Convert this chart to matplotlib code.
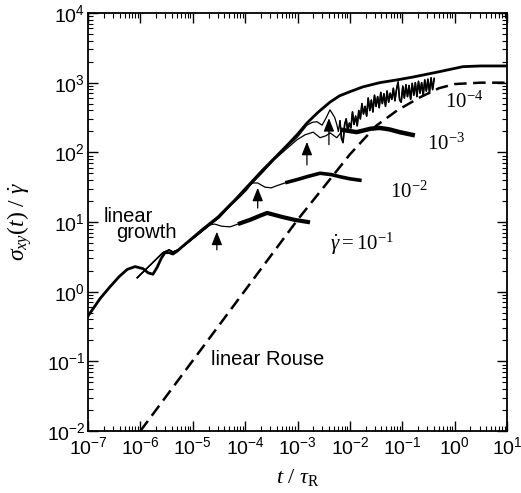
import numpy as np
import matplotlib
matplotlib.use('Agg')
import matplotlib.pyplot as plt
from matplotlib.ticker import FuncFormatter, LogLocator

plt.rcParams['font.family'] = 'Liberation Sans'
plt.rcParams['mathtext.fontset'] = 'custom'
plt.rcParams['mathtext.rm'] = 'Liberation Serif'
plt.rcParams['mathtext.it'] = 'Liberation Serif:italic'
plt.rcParams['mathtext.sf'] = 'Liberation Sans'

# datos, en log10
growth_logt = [-7.0, -6.77, -6.58, -6.4, -6.25, -6.1, -5.95, -5.85, -5.76, -5.68, -5.6, -5.53,
               -5.45, -5.38, -5.3, -5.21, -4.82, -4.52, -4.19, -3.66, -3.2, -3.0, -2.82,
               -2.6, -2.38, -2.2, -2.0, -1.75, -1.43, -1.1, -0.8, -0.34, 0.16, 0.5, 1.0]
growth_logs = [-0.35, -0.1, 0.07, 0.22, 0.32, 0.36, 0.33, 0.27, 0.25, 0.35, 0.48, 0.56,
               0.56, 0.54, 0.58, 0.64, 0.89, 1.07, 1.32, 1.75, 2.1, 2.26, 2.42,
               2.58, 2.72, 2.81, 2.87, 2.94, 3.0, 3.04, 3.08, 3.15, 3.23, 3.24, 3.24]

rouse_logt = [-6.0, -3.0, -2.0, -1.5, -1.1, -0.66, -0.3, 0.0, 0.5, 1.0]
rouse_logs = [-2.0, 1.03, 1.97, 2.38, 2.6, 2.79, 2.92, 2.98, 3.0, 3.0]

# tramo comun de las simulaciones
early_logt = [-6.06, -5.80, -5.57, -5.45, -5.38, -5.28, -5.2, -5.0, -4.82, -4.67, -4.5,
              -4.3, -4.1, -3.85, -3.66, -3.45, -3.24, -3.0, -2.82]
early_logs = [0.20, 0.39, 0.56, 0.60, 0.57, 0.60, 0.64, 0.76, 0.87, 0.96, 1.06,
              1.22, 1.38, 1.57, 1.72, 1.89, 2.05, 2.22, 2.39]

r1_logt = [-4.67, -4.58, -4.45, -4.29, -4.1, -3.91, -3.75, -3.58, -3.43, -3.28, -3.05, -2.8]
r1_logs = [0.96, 0.97, 0.94, 0.93, 0.98, 1.03, 1.08, 1.13, 1.10, 1.07, 1.03, 1.0]

r2_logt = [-4.10, -3.97, -3.87, -3.76, -3.62, -3.50, -3.40, -3.2, -3.0, -2.82, -2.57,
           -2.35, -2.19, -2.0, -1.81]
r2_logs = [1.36, 1.46, 1.56, 1.56, 1.50, 1.49, 1.52, 1.57, 1.61, 1.65, 1.70,
           1.68, 1.65, 1.62, 1.60]

r3_logt = [-3.24, -3.01, -2.86, -2.7, -2.57, -2.45, -2.38, -2.25, -2.13, -1.87, -1.6,
           -1.43, -1.25, -1.05, -0.8]
r3_logs = [2.03, 2.18, 2.25, 2.29, 2.21, 2.24, 2.28, 2.21, 2.32, 2.29, 2.34,
           2.35, 2.33, 2.29, 2.25]

r4_logt = [-2.82, -2.72, -2.63, -2.53, -2.45, -2.38, -2.33, -2.29, -2.25, -2.22, -2.19,
           -2.16, -2.13, -2.10, -2.07, -2.04, -2.01, -1.98, -1.95, -1.92, -1.89, -1.86,
           -1.83, -1.80, -1.77, -1.74, -1.71, -1.68, -1.65, -1.62, -1.59, -1.56, -1.53,
           -1.50, -1.47, -1.44, -1.41, -1.38, -1.35, -1.32, -1.29, -1.26, -1.23, -1.20,
           -1.17, -1.14, -1.11, -1.08, -1.05, -1.02, -0.99, -0.96, -0.93, -0.90, -0.87,
           -0.84, -0.81, -0.78, -0.75, -0.72, -0.69, -0.66, -0.63, -0.60, -0.57, -0.54,
           -0.51, -0.48, -0.45, -0.42, -0.39]
r4_logs = [2.39, 2.43, 2.44, 2.39, 2.50, 2.61, 2.55, 2.50, 2.40, 2.30, 2.45,
           2.20, 2.14, 2.40, 2.48, 2.30, 2.42, 2.35, 2.58, 2.40, 2.52, 2.38,
           2.60, 2.48, 2.70, 2.55, 2.66, 2.52, 2.78, 2.60, 2.75, 2.58, 2.82,
           2.66, 2.80, 2.64, 2.86, 2.70, 2.84, 2.66, 2.88, 2.72, 2.85, 2.76,
           2.92, 2.74, 2.90, 3.01, 2.75, 2.72, 2.95, 2.78, 2.97, 2.80, 2.96,
           2.76, 2.99, 2.82, 3.00, 2.80, 3.02, 2.85, 3.00, 2.82, 3.04, 2.88,
           3.05, 2.86, 3.07, 2.90, 3.06]

# flechas: (log t, log base, log punta)
arrows = [(-4.54, 0.60, 0.86), (-3.76, 1.20, 1.49), (-2.82, 1.82, 2.15), (-2.40, 2.11, 2.49)]

fig = plt.figure(figsize=(5.21, 4.93), dpi=100)
ax = fig.add_axes([88/521, 1-431/493, (507-88)/521, (431-13)/493])

ax.plot(10**np.array(growth_logt), 10**np.array(growth_logs), color='black', lw=2.0)
ax.plot(10**np.array(rouse_logt), 10**np.array(rouse_logs), color='black', lw=1.8,
        dashes=(5, 2.6))

ramas = [(r1_logt, r1_logs, -4.2, 3.0), (r2_logt, r2_logs, -3.3, 2.6),
         (r3_logt, r3_logs, -2.15, 3.2), (r4_logt, r4_logs, -2.2, 1.2)]
for bt, bs, noise_start, lw in ramas:
    et = np.array(early_logt)
    es = np.array(early_logs)
    m = et < bt[0]
    tt = np.concatenate([et[m], bt])
    ss = np.concatenate([es[m], bs])
    ax.plot(10**tt, 10**ss, color='black', lw=0.9)
    n = tt >= noise_start
    if n.sum() > 1:
        ax.plot(10**tt[n], 10**ss[n], color='black', lw=lw)

for xa, y0, y1 in arrows:
    ax.annotate('', xy=(10**xa, 10**y1), xytext=(10**xa, 10**y0),
                arrowprops=dict(arrowstyle='-|>,head_length=0.8,head_width=0.32',
                                color='black', lw=0.9, shrinkA=0, shrinkB=0))

ax.set_xscale('log')
ax.set_yscale('log')
ax.set_xlim(1e-7, 1e1)
ax.set_ylim(1e-2, 1e4)
ax.xaxis.set_major_locator(LogLocator(base=10, numticks=20))
ax.yaxis.set_major_locator(LogLocator(base=10, numticks=20))
ax.xaxis.set_minor_locator(LogLocator(base=10, subs=np.arange(2, 10), numticks=20))
ax.yaxis.set_minor_locator(LogLocator(base=10, subs=np.arange(2, 10), numticks=20))
fmt = FuncFormatter(lambda v, p: r'$\mathsf{10^{%d}}$' % round(np.log10(v)))
ax.xaxis.set_major_formatter(fmt)
ax.yaxis.set_major_formatter(fmt)
ax.tick_params(which='both', direction='in', top=True, right=True, labelsize=14)
ax.tick_params(which='major', length=7, width=1.0)
ax.tick_params(which='minor', length=3.5, width=0.8)
ax.tick_params(axis='x', pad=4)
ax.tick_params(axis='y', pad=2)
for s in ax.spines.values():
    s.set_linewidth(1.3)

ax.set_xlabel(r'$t\ /\ \tau_{\rm R}$', fontsize=16, labelpad=6)
ax.set_ylabel(r'$\sigma_{xy}(t)\ /\ \dot{\gamma}$', fontsize=17, labelpad=9)

ax.text(10**-6.71, 10**1.00, 'linear', fontsize=14.5)
ax.text(10**-6.47, 10**0.77, 'growth', fontsize=14.5)
ax.text(10**-4.65, 10**-1.05, 'linear Rouse', fontsize=14.5)
ax.text(10**-0.19, 10**2.64, r'$\mathrm{10^{-4}}$', fontsize=15)
ax.text(10**-0.53, 10**2.03, r'$\mathrm{10^{-3}}$', fontsize=15)
ax.text(10**-1.24, 10**1.35, r'$\mathrm{10^{-2}}$', fontsize=15)
ax.text(10**-2.38, 10**0.60, r'$\dot{\gamma}\mathrm{= 10^{-1}}$', fontsize=15)

plt.savefig('out.png', dpi=100)
